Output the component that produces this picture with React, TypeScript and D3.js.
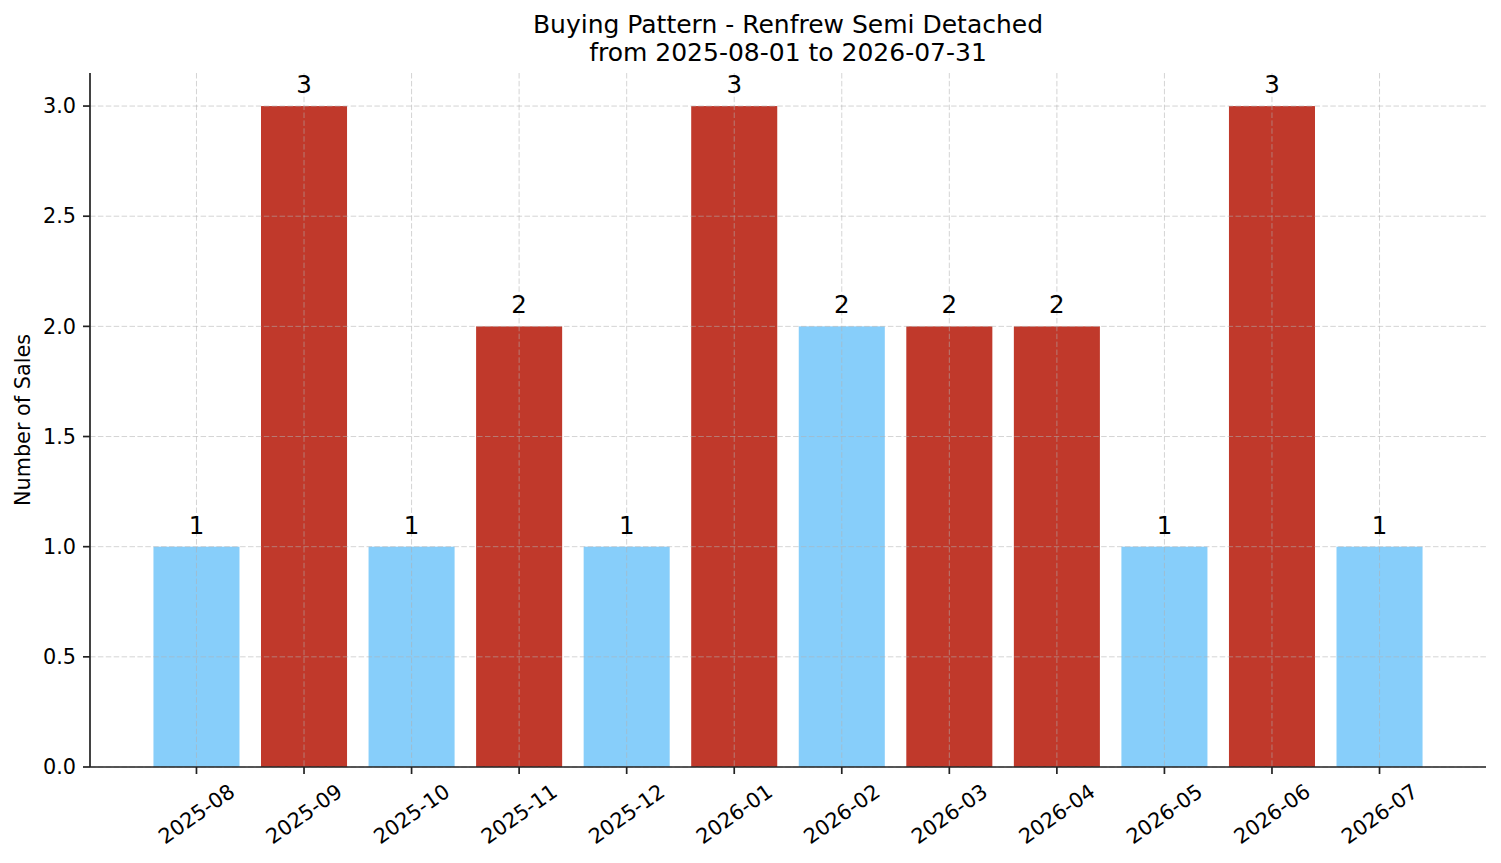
import * as d3 from 'd3';

// Monthly sales for Renfrew semi detached, Aug 2025 – Jul 2026
const months = [
  '2025-08', '2025-09', '2025-10', '2025-11', '2025-12', '2026-01',
  '2026-02', '2026-03', '2026-04', '2026-05', '2026-06', '2026-07',
];
const sales = [1, 3, 1, 2, 1, 3, 2, 2, 2, 1, 3, 1];
const isPeak = [false, true, false, true, false, true, false, true, true, false, true, false];
const yTicks = [0, 0.5, 1, 1.5, 2, 2.5, 3];

const W = 1501;
const H = 863;
const margin = { top: 73, right: 15, bottom: 96, left: 90 };
const FONT = '"DejaVu Sans", sans-serif';
const PEAK = '#c0392b';
const NORMAL = '#87cefa';

export default function App() {
  const innerW = W - margin.left - margin.right;
  const innerH = H - margin.top - margin.bottom;

  // matplotlib-style padding: bars are 0.8 wide, 5% margin on each side
  const n = months.length;
  const lo = -0.4, hi = n - 1 + 0.4;
  const pad = (hi - lo) * 0.05;
  const x = d3.scaleLinear().domain([lo - pad, hi + pad]).range([0, innerW]);
  const yMax = d3.max(sales)! * 1.05;
  const y = d3.scaleLinear().domain([0, yMax]).range([innerH, 0]);
  const barW = x(0.8) - x(0);
  const fmt = d3.format('.1f');

  const tickFont = 20.8;
  const labelLen = 4.177 * tickFont;
  const lineH = 1.164 * tickFont;
  const ang = (35 * Math.PI) / 180;
  const rotH = labelLen * Math.sin(ang) + lineH * Math.cos(ang);

  return (
    <svg
      width={W}
      height={H}
      style={{ position: 'absolute', left: 0, top: 0, background: '#fff' }}
      fontFamily={FONT}
    >
      <text x={margin.left + innerW / 2} y={33} textAnchor="middle" fontSize={25} fill="#000">
        Buying Pattern - Renfrew Semi Detached
      </text>
      <text x={margin.left + innerW / 2} y={61} textAnchor="middle" fontSize={25} fill="#000">
        from 2025-08-01 to 2026-07-31
      </text>

      <g transform={`translate(${margin.left},${margin.top})`}>
        {/* bars */}
        {sales.map((v, i) => (
          <rect
            key={months[i]}
            x={x(i) - barW / 2}
            y={y(v)}
            width={barW}
            height={innerH - y(v)}
            fill={isPeak[i] ? PEAK : NORMAL}
          />
        ))}

        {/* grid over bars */}
        <g stroke="#b0b0b0" strokeOpacity={0.55} strokeWidth={1} strokeDasharray="5.5,2.4">
          {yTicks.map((t) => (
            <line key={'h' + t} x1={0} x2={innerW} y1={y(t)} y2={y(t)} />
          ))}
          {months.map((m, i) => (
            <line key={'v' + m} x1={x(i)} x2={x(i)} y1={0} y2={innerH} />
          ))}
        </g>

        {/* value labels */}
        {sales.map((v, i) => (
          <text key={'l' + i} x={x(i)} y={y(v) - 13} textAnchor="middle" fontSize={24.5} fill="#000">
            {v}
          </text>
        ))}

        {/* y axis */}
        <line x1={0} x2={0} y1={0} y2={innerH} stroke="#222" strokeWidth={1.7} />
        {yTicks.map((t) => (
          <g key={'yt' + t} transform={`translate(0,${y(t)})`}>
            <line x1={-7} x2={0} stroke="#222" strokeWidth={1.7} />
            <text x={-14} dy="0.35em" textAnchor="end" fontSize={tickFont} fill="#000">
              {fmt(t)}
            </text>
          </g>
        ))}
        <text
          transform={`translate(${23 - margin.left},${innerH / 2}) rotate(-90)`}
          textAnchor="middle"
          dy="0.35em"
          fontSize={20.8}
          fill="#000"
        >
          Number of Sales
        </text>

        {/* x axis */}
        <line x1={0} x2={innerW} y1={innerH} y2={innerH} stroke="#222" strokeWidth={1.7} />
        {months.map((m, i) => (
          <g key={'xt' + m}>
            <line x1={x(i)} x2={x(i)} y1={innerH} y2={innerH + 7} stroke="#222" strokeWidth={1.7} />
            <text
              transform={`translate(${x(i)},${innerH + 12 + rotH / 2}) rotate(-35)`}
              textAnchor="middle"
              dy="0.35em"
              fontSize={tickFont}
              fill="#000"
            >
              {m}
            </text>
          </g>
        ))}
      </g>
    </svg>
  );
}
